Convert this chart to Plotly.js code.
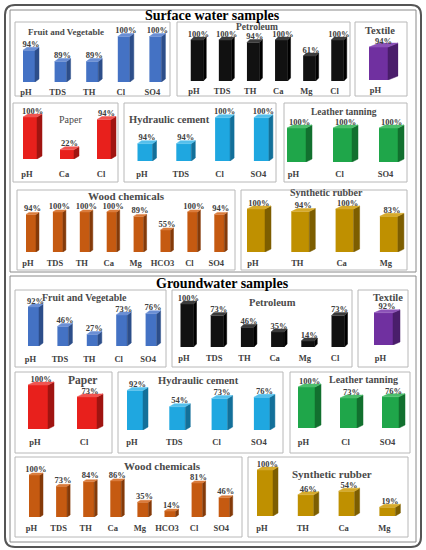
<!DOCTYPE html>
<html>
<head>
<meta charset="utf-8">
<script src="https://cdn.plot.ly/plotly-3.0.1.min.js"></script>
<style>
  body { margin: 0; background: #fff; }
  #grafico { width: 426px; height: 550px; }
</style>
</head>
<body>
<div id="grafico"></div>
<script>
// SURFACE WATER SAMPLES - percentage of samples within limits
var sFruitCats = ["pH", "TDS", "TH", "Cl", "SO4"];
var sFruitVals = [94, 89, 89, 100, 100];
var sPetroCats = ["pH", "TDS", "TH", "Ca", "Mg", "Cl"];
var sPetroVals = [100, 100, 94, 100, 61, 100];
var sTextileCats = ["pH"];
var sTextileVals = [94];
var sPaperCats = ["pH", "Ca", "Cl"];
var sPaperVals = [100, 22, 94];
var sCementCats = ["pH", "TDS", "Cl", "SO4"];
var sCementVals = [94, 94, 100, 100];
var sLeatherCats = ["pH", "Cl", "SO4"];
var sLeatherVals = [100, 100, 100];
var sWoodCats = ["pH", "TDS", "TH", "Ca", "Mg", "HCO3", "Cl", "SO4"];
var sWoodVals = [94, 100, 100, 100, 89, 55, 100, 94];
var sRubberCats = ["pH", "TH", "Ca", "Mg"];
var sRubberVals = [100, 94, 100, 83];

// GROUNDWATER SAMPLES
var gFruitCats = ["pH", "TDS", "TH", "Cl", "SO4"];
var gFruitVals = [92, 46, 27, 73, 76];
var gPetroCats = ["pH", "TDS", "TH", "Ca", "Mg", "Cl"];
var gPetroVals = [100, 73, 46, 35, 14, 73];
var gTextileCats = ["pH"];
var gTextileVals = [92];
var gPaperCats = ["pH", "Cl"];
var gPaperVals = [100, 73];
var gCementCats = ["pH", "TDS", "Cl", "SO4"];
var gCementVals = [92, 54, 73, 76];
var gLeatherCats = ["pH", "Cl", "SO4"];
var gLeatherVals = [100, 73, 76];
var gWoodCats = ["pH", "TDS", "TH", "Ca", "Mg", "HCO3", "Cl", "SO4"];
var gWoodVals = [100, 73, 84, 86, 35, 14, 81, 46];
var gRubberCats = ["pH", "TH", "Ca", "Mg"];
var gRubberVals = [100, 46, 54, 19];

// cores: frente, lado, topo
var cores = {
  fruit:   ["#4472C4", "#2D4E8A", "#6B8FD4"],
  petro:   ["#111111", "#000000", "#3c3c3c"],
  textile: ["#7030A0", "#4A1E6B", "#8C52B8"],
  paper:   ["#E8201C", "#A01411", "#F05450"],
  cement:  ["#1FA7E0", "#13709A", "#55C0EC"],
  leather: ["#1FA64A", "#12702F", "#4CBE6C"],
  wood:    ["#C55A11", "#843A09", "#DA7C3C"],
  rubber:  ["#BF9000", "#7D5E00", "#D6AA2C"]
};

// posicao de cada painel (em pixels da figura 426x550), st = afastamento dos rotulos do eixo
var paineis = [
  {cats: sFruitCats, vals: sFruitVals, cor: cores.fruit, titulo: "Fruit and Vegetable", tx: 66, ty: 32, ts: 9, box: [15, 22, 170, 96], c0: 29, sp: 31.6, bw: 12, yb: 82, k: 2.27, b: 80, dx: 4, dy: 3, st: 3},
  {cats: sPetroCats, vals: sPetroVals, cor: cores.petro, titulo: "Petroleum", tx: 257, ty: 27, ts: 9.5, box: [177, 22, 350, 96], c0: 197, sp: 28.1, bw: 12.5, yb: 81, k: 0.41, b: 0, dx: 3, dy: 3, st: 3},
  {cats: sTextileCats, vals: sTextileVals, cor: cores.textile, titulo: "Textile", tx: 380, ty: 30, ts: 10.5, box: [355, 22, 407, 96], c0: 378.5, sp: 40, bw: 19, yb: 80, k: 0.35, b: 0, dx: 10, dy: 4, st: 3},
  {cats: sPaperCats, vals: sPaperVals, cor: cores.paper, titulo: "Paper", tx: 70, ty: 120, ts: 10, peso: "normal", box: [13, 103, 118, 182], c0: 30, sp: 37, bw: 14, yb: 159, k: 0.42, b: 0, dx: 5, dy: 3, st: 8},
  {cats: sCementCats, vals: sCementVals, cor: cores.cement, titulo: "Hydraulic cement", tx: 169, ty: 120, ts: 10.5, box: [124, 103, 276, 182], c0: 145, sp: 38.8, bw: 15, yb: 161, k: 4.33, b: 90, dx: 4, dy: 3, st: 6},
  {cats: sLeatherCats, vals: sLeatherVals, cor: cores.leather, titulo: "Leather tanning", tx: 344, ty: 111.5, ts: 9.5, box: [284, 103, 407, 182], c0: 296.5, sp: 46, bw: 19, yb: 162, k: 0.34, b: 0, dx: 6, dy: 3, st: 5},
  {cats: sWoodCats, vals: sWoodVals, cor: cores.wood, titulo: "Wood chemicals", tx: 126, ty: 196, ts: 11, box: [17, 190, 235, 270], c0: 31, sp: 26.9, bw: 10, yb: 252, k: 0.4, b: 0, dx: 3, dy: 2, st: 4},
  {cats: sRubberCats, vals: sRubberVals, cor: cores.rubber, titulo: "Synthetic rubber", tx: 326, ty: 193, ts: 10, box: [241, 190, 407, 270], c0: 256, sp: 44.3, bw: 18, yb: 252, k: 0.43, b: 0, dx: 6, dy: 3, st: 4},

  {cats: gFruitCats, vals: gFruitVals, cor: cores.fruit, titulo: "Fruit and Vegetable", tx: 84, ty: 297, ts: 10, box: [15, 290, 166, 367], c0: 33.5, sp: 29.4, bw: 11, yb: 346, k: 0.425, b: 0, dx: 4, dy: 3, st: 6},
  {cats: gPetroCats, vals: gPetroVals, cor: cores.petro, titulo: "Petroleum", tx: 272, ty: 302, ts: 10.5, box: [172, 290, 352, 367], c0: 187, sp: 30.2, bw: 13, yb: 347, k: 0.43, b: 0, dx: 3, dy: 3, st: 4},
  {cats: gTextileCats, vals: gTextileVals, cor: cores.textile, titulo: "Textile", tx: 388, ty: 297, ts: 10.5, box: [358, 290, 408, 367], c0: 383.5, sp: 40, bw: 19, yb: 345, k: 0.35, b: 0, dx: 7, dy: 3, st: 6},
  {cats: gPaperCats, vals: gPaperVals, cor: cores.paper, titulo: "Paper", tx: 82, ty: 380, ts: 11.5, box: [15, 372, 112, 453], c0: 38, sp: 49, bw: 20, yb: 429, k: 0.44, b: 0, dx: 6, dy: 3, st: 6},
  {cats: gCementCats, vals: gCementVals, cor: cores.cement, titulo: "Hydraulic cement", tx: 198, ty: 380, ts: 10.5, box: [118, 372, 283, 453], c0: 135, sp: 42.3, bw: 16, yb: 430, k: 0.43, b: 0, dx: 5, dy: 3, st: 5},
  {cats: gLeatherCats, vals: gLeatherVals, cor: cores.leather, titulo: "Leather tanning", tx: 363, ty: 379, ts: 10, box: [290, 372, 410, 453], c0: 306.5, sp: 42, bw: 17, yb: 428, k: 0.41, b: 0, dx: 6, dy: 3, st: 7},
  {cats: gWoodCats, vals: gWoodVals, cor: cores.wood, titulo: "Wood chemicals", tx: 162, ty: 466, ts: 11, box: [15, 457, 242, 537], c0: 34.5, sp: 27.1, bw: 11, yb: 517, k: 0.42, b: 0, dx: 3, dy: 2, st: 4},
  {cats: gRubberCats, vals: gRubberVals, cor: cores.rubber, titulo: "Synthetic rubber", tx: 332, ty: 474, ts: 11, box: [248, 457, 408, 537], c0: 265, sp: 40.8, bw: 16, yb: 516, k: 0.46, b: 0, dx: 5, dy: 3, st: 5}
];

var W = 426, H = 550;
function px(x) { return x / W; }
function py(y) { return 1 - y / H; }

var fonte = "'Liberation Serif', 'Times New Roman', serif";
var traces = [];
var shapes = [];
var annotations = [];
var layout = {
  width: W, height: H,
  margin: {l: 0, r: 0, t: 0, b: 0},
  paper_bgcolor: "#ffffff",
  plot_bgcolor: "rgba(0,0,0,0)",
  showlegend: false
};

// MOLDURAS EXTERNAS
function caixaRedonda(x0, y0, x1, y1, r) {
  var X0 = px(x0), X1 = px(x1), Y0 = py(y0), Y1 = py(y1);
  var rx = r / W, ry = r / H;
  return "M " + (X0 + rx) + "," + Y0 + " L " + (X1 - rx) + "," + Y0 +
    " Q " + X1 + "," + Y0 + " " + X1 + "," + (Y0 - ry) +
    " L " + X1 + "," + (Y1 + ry) + " Q " + X1 + "," + Y1 + " " + (X1 - rx) + "," + Y1 +
    " L " + (X0 + rx) + "," + Y1 + " Q " + X0 + "," + Y1 + " " + X0 + "," + (Y1 + ry) +
    " L " + X0 + "," + (Y0 - ry) + " Q " + X0 + "," + Y0 + " " + (X0 + rx) + "," + Y0 + " Z";
}
shapes.push({type: "path", xref: "paper", yref: "paper", path: caixaRedonda(5, 5, 421, 547, 10), line: {color: "#555555", width: 2}});
shapes.push({type: "rect", xref: "paper", yref: "paper", x0: px(10), x1: px(416), y0: py(10), y1: py(272), line: {color: "#8a8a8a", width: 1}});
shapes.push({type: "rect", xref: "paper", yref: "paper", x0: px(10), x1: px(416), y0: py(276), y1: py(542), line: {color: "#8a8a8a", width: 1}});

annotations.push({xref: "paper", yref: "paper", x: px(212), y: py(16), text: "Surface water samples", showarrow: false,
  font: {family: fonte, size: 14, color: "#000", weight: "bold"}, xanchor: "center", yanchor: "middle"});
annotations.push({xref: "paper", yref: "paper", x: px(222), y: py(283), text: "Groundwater samples", showarrow: false,
  font: {family: fonte, size: 14, color: "#000", weight: "bold"}, xanchor: "center", yanchor: "middle"});

// CADA PAINEL VIRA UM SUBPLOT
paineis.forEach(function(p, i) {
  var n = p.cats.length;
  var s = i === 0 ? "" : String(i + 1);
  var xa = "x" + s, ya = "y" + s;
  var topo = p.box[1] + 1;
  var esq = p.c0 - p.sp / 2, dir = p.c0 + (n - 1) * p.sp + p.sp / 2;

  var ticks = p.cats.map(function(c, j) { return j - 3 / p.sp; });
  layout["xaxis" + s] = {
    domain: [px(esq), px(dir)], range: [-0.5, n - 0.5], anchor: ya,
    tickvals: ticks, ticktext: p.cats, ticks: "", showgrid: false, zeroline: false, showline: false,
    ticklabelstandoff: p.st, fixedrange: true,
    tickfont: {family: fonte, size: 8.5, color: "#404040", weight: "bold"}
  };
  layout["yaxis" + s] = {
    domain: [py(p.yb), py(topo)], range: [p.b, p.b + (p.yb - topo) / p.k], anchor: xa,
    visible: false, fixedrange: true
  };

  // moldura do painel
  shapes.push({type: "rect", xref: "paper", yref: "paper", x0: px(p.box[0]), x1: px(p.box[2]), y0: py(p.box[3]), y1: py(p.box[1]),
    line: {color: "#b8b8b8", width: 1}, layer: "below"});
  // titulo do painel
  annotations.push({xref: "paper", yref: "paper", x: px(p.tx), y: py(p.ty), text: p.titulo, showarrow: false,
    font: {family: fonte, size: p.ts, color: "#4a4a4a", weight: p.peso || "bold"}, xanchor: "center", yanchor: "middle"});

  var hw = p.bw / 2 / p.sp, ddx = p.dx / p.sp, ddy = p.dy / p.k;
  var xs = p.cats.map(function(c, j) { return j; });

  // face da frente
  traces.push({type: "bar", x: xs, y: p.vals, width: p.bw / p.sp, xaxis: xa, yaxis: ya,
    marker: {color: p.cor[0], line: {width: 0}}, hoverinfo: "skip"});

  // face lateral e topo (efeito 3D)
  var ladoX = [], ladoY = [], topX = [], topY = [];
  p.vals.forEach(function(v, j) {
    ladoX.push(j + hw, j + hw + ddx, j + hw + ddx, j + hw, j + hw, null);
    ladoY.push(p.b, p.b + ddy, v + ddy, v, p.b, null);
    topX.push(j - hw, j + hw, j + hw + ddx, j - hw + ddx, j - hw, null);
    topY.push(v, v, v + ddy, v + ddy, v, null);
  });
  traces.push({type: "scatter", mode: "lines", x: ladoX, y: ladoY, fill: "toself", fillcolor: p.cor[1],
    line: {width: 0.5, color: p.cor[1]}, xaxis: xa, yaxis: ya, hoverinfo: "skip"});
  traces.push({type: "scatter", mode: "lines", x: topX, y: topY, fill: "toself", fillcolor: p.cor[2],
    line: {width: 0.5, color: p.cor[2]}, xaxis: xa, yaxis: ya, hoverinfo: "skip"});

  // rotulos de porcentagem, logo acima do topo da barra
  traces.push({type: "scatter", mode: "text", xaxis: xa, yaxis: ya, hoverinfo: "skip", cliponaxis: false,
    x: xs.map(function(j) { return j + ddx / 2; }),
    y: p.vals.map(function(v) { return v + 1.2 / p.k; }),
    text: p.vals.map(function(v) { return v + "%"; }),
    textposition: "top center",
    textfont: {family: fonte, size: 8.5, color: "#404040", weight: "bold"}});
});

layout.shapes = shapes;
layout.annotations = annotations;

Plotly.newPlot("grafico", traces, layout, {staticPlot: true});
</script>
</body>
</html>
